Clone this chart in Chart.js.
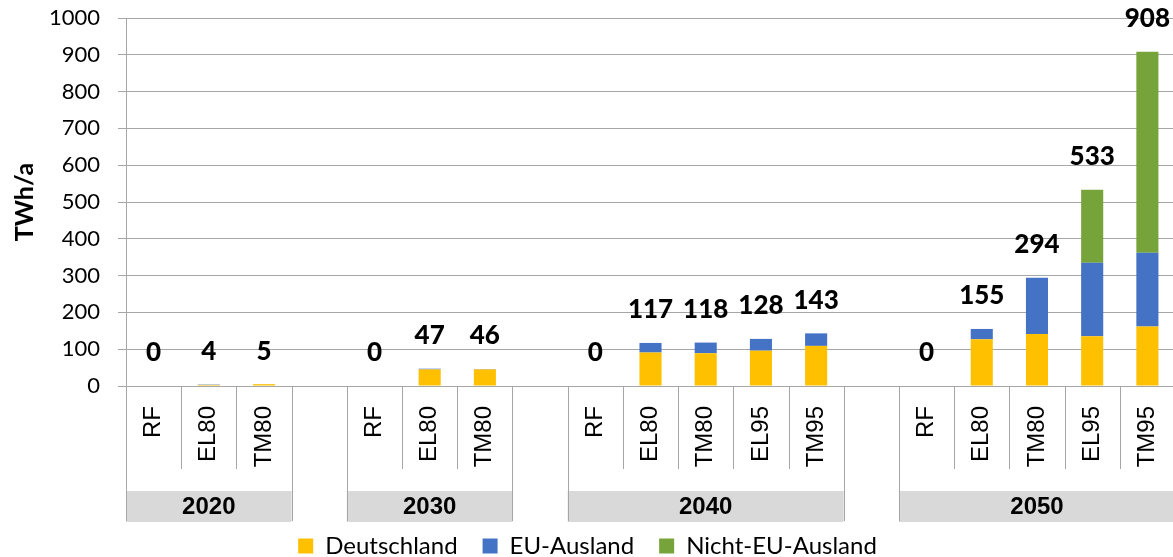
<!DOCTYPE html>
<html>
<head>
<meta charset="utf-8">
<script src="https://cdn.jsdelivr.net/npm/chart.js@4.4.1/dist/chart.umd.min.js"></script>
<style>
html,body{margin:0;padding:0;background:#fff;overflow:hidden;}
#wrap{position:relative;width:1192px;height:557px;}
</style>
</head>
<body>
<div id="wrap"><canvas id="c"></canvas></div>
<script>
// ---- data ----
const categories = ['RF','EL80','TM80','', 'RF','EL80','TM80','', 'RF','EL80','TM80','EL95','TM95','', 'RF','EL80','TM80','EL95','TM95'];
const groups = ['2020','2030','2040','2050'];
const groupSizes = [3,3,5,5];
const deutschland = [0,3,5,null, 0,45,45,null, 0,91,89,96,109,null, 0,127,141,135,162];
const euAusland   = [0,1,0,null, 0,2,1,null, 0,26,29,32,34,null, 0,28,153,200,200];
const nichtEU     = [0,0,0,null, 0,0,0,null, 0,0,0,0,0,null, 0,0,0,198,546];
const totals      = [0,4,5,null, 0,47,46,null, 0,117,118,128,143,null, 0,155,294,533,908];
const yTicks = [0,100,200,300,400,500,600,700,800,900,1000];

const GRID = '#A6A6A6';

const groupAxisPlugin = {
  id: 'groupAxis',
  afterDraw(chart) {
    const ctx = chart.ctx;
    const x = chart.scales.x;
    const y0 = chart.chartArea.bottom;
    const slot = (x.getPixelForValue(1) - x.getPixelForValue(0));
    ctx.save();
    // total labels
    ctx.fillStyle = '#000';
    ctx.font = '900 26px Lato';
    ctx.textAlign = 'center';
    ctx.textBaseline = 'middle';
    totals.forEach((t, i) => {
      if (t === null) return;
      const px = x.getPixelForValue(i);
      const py = chart.scales.y.getPixelForValue(t) - 33;
      ctx.fillText(String(t), px, py);
    });
    // group bands & separators
    let idx = 0;
    ctx.lineWidth = 1;
    groups.forEach((g, gi) => {
      const n = groupSizes[gi];
      const left = x.getPixelForValue(idx) - slot/2;
      const right = x.getPixelForValue(idx + n - 1) + slot/2;
      ctx.fillStyle = '#D9D9D9';
      ctx.fillRect(left, y0 + 105, right - left, 31);
      ctx.strokeStyle = GRID;
      ctx.beginPath();
      ctx.moveTo(Math.round(left)+0.5, y0); ctx.lineTo(Math.round(left)+0.5, y0 + 135);
      ctx.moveTo(Math.round(right)+0.5, y0); ctx.lineTo(Math.round(right)+0.5, y0 + 135);
      for (let k = 1; k < n; k++) {
        const sx = Math.round(left + k*slot) + 0.5;
        ctx.moveTo(sx, y0); ctx.lineTo(sx, y0 + 83);
      }
      ctx.stroke();
      ctx.fillStyle = '#000';
      ctx.font = 'bold 24px "Liberation Sans"';
      ctx.textAlign = 'center';
      ctx.textBaseline = 'middle';
      ctx.fillText(g, (left + right)/2, y0 + 121);
      idx += n + 1;
    });
    ctx.restore();
  }
};

new Chart(document.getElementById('c'), {
  type: 'bar',
  data: {
    labels: categories,
    datasets: [
      {label: 'Deutschland', data: deutschland, backgroundColor: '#FFC000'},
      {label: 'EU-Ausland', data: euAusland, backgroundColor: '#4472C4'},
      {label: 'Nicht-EU-Ausland', data: nichtEU, backgroundColor: '#77A43A'}
    ]
  },
  options: {
    responsive: true,
    maintainAspectRatio: false,
    animation: false,
    datasets: {bar: {categoryPercentage: 1, barPercentage: 0.4}},
    layout: {padding: {left: 0, right: 17, top: 18, bottom: -11}},
    scales: {
      x: {
        stacked: true,
        grid: {display: false, drawTicks: false},
        border: {display: true, color: GRID, width: 1},
        ticks: {
          autoSkip: false, minRotation: 90, maxRotation: 90,
          color: '#000', font: {family: 'Liberation Sans', size: 24},
          padding: 20
        },
        afterFit(s) { s.height = 123; s.paddingLeft = 0; s.paddingRight = 0; }
      },
      y: {
        stacked: true,
        min: 0, max: 1000,
        afterBuildTicks(s) { s.ticks = yTicks.map(v => ({value: v})); },
        grid: {color: GRID, lineWidth: 1, tickLength: 8},
        border: {display: true, color: GRID, width: 1},
        ticks: {color: '#000', font: {family: 'Lato', size: 22}, padding: 18, callback: v => String(v)},
        title: {display: true, text: 'TWh/a', color: '#000', font: {family: 'Lato', size: 25, weight: 'bold'}, padding: {top: 10, bottom: 0}},
        afterFit(s) { s.width = 126; s.paddingTop = 0; s.paddingBottom = 0; }
      }
    },
    plugins: {
      legend: {
        position: 'bottom',
        labels: {
          color: '#000', font: {family: 'Lato', size: 24},
          boxWidth: 15, boxHeight: 15, padding: 25
        }
      },
      tooltip: {enabled: false}
    }
  },
  plugins: [groupAxisPlugin]
});
</script>
</body>
</html>
